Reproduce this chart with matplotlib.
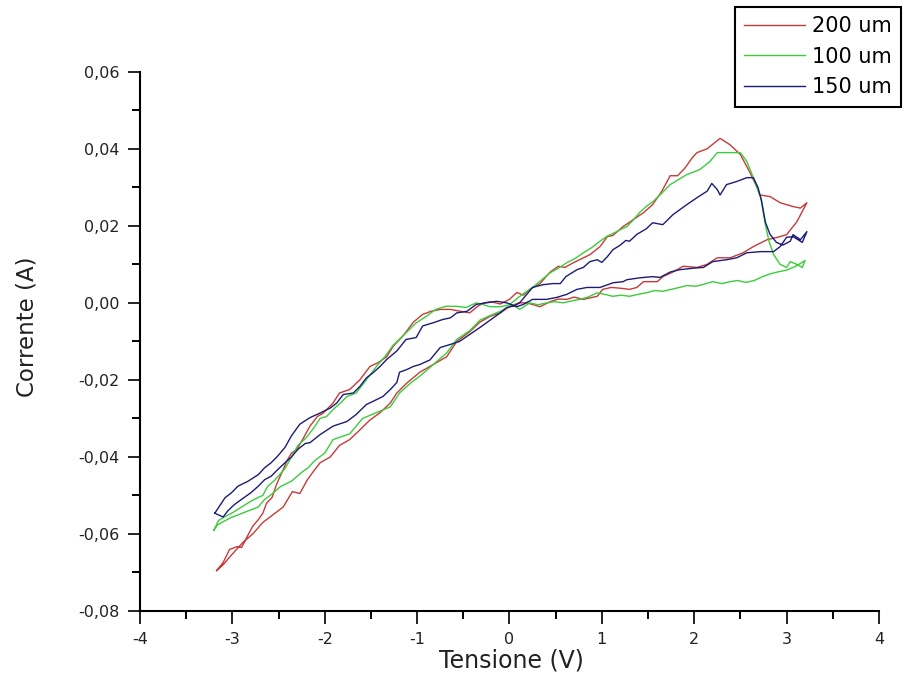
import numpy as np
import matplotlib
matplotlib.use("Agg")
import matplotlib.pyplot as plt
from matplotlib.ticker import MultipleLocator, FuncFormatter

# I-V loops: (tensione V, corrente A)
# forward = from the lowest left point to the right end, reverse = back again
red_fwd = [(-3.17, -0.0695), (-3.10, -0.0674), (-3.03, -0.0640), (-2.95, -0.0633), (-2.90, -0.0635),
           (-2.84, -0.0607), (-2.78, -0.0580), (-2.72, -0.0563), (-2.67, -0.0546), (-2.63, -0.0520),
           (-2.57, -0.0505), (-2.52, -0.0470), (-2.45, -0.0433), (-2.41, -0.0410), (-2.36, -0.0390),
           (-2.30, -0.0380), (-2.24, -0.0355), (-2.16, -0.0320), (-2.08, -0.0295), (-2.02, -0.0287),
           (-1.91, -0.0260), (-1.84, -0.0234), (-1.73, -0.0225), (-1.62, -0.0200), (-1.51, -0.0165),
           (-1.42, -0.0155), (-1.33, -0.0140), (-1.26, -0.0113), (-1.15, -0.0085), (-1.04, -0.0050),
           (-0.94, -0.0030), (-0.85, -0.0022), (-0.75, -0.0017), (-0.64, -0.0017), (-0.53, -0.0022),
           (-0.43, -0.0026), (-0.35, -0.0010), (-0.28, 0.0000), (-0.20, 0.0003), (-0.10, -0.0003),
           (0.00, 0.0009), (0.08, 0.0027), (0.15, 0.0020), (0.22, 0.0035), (0.33, 0.0050),
           (0.44, 0.0080), (0.53, 0.0095), (0.60, 0.0092), (0.69, 0.0104), (0.80, 0.0117),
           (0.87, 0.0125), (0.98, 0.0146), (1.06, 0.0172), (1.12, 0.0175), (1.23, 0.0198),
           (1.34, 0.0216), (1.45, 0.0234), (1.55, 0.0255), (1.65, 0.0290), (1.74, 0.0330),
           (1.82, 0.0330), (1.90, 0.0350), (1.98, 0.0377), (2.03, 0.0390), (2.14, 0.0400),
           (2.28, 0.0427), (2.39, 0.0410), (2.50, 0.0385), (2.60, 0.0340), (2.68, 0.0300),
           (2.71, 0.0280), (2.82, 0.0276), (2.93, 0.0260), (3.00, 0.0255), (3.07, 0.0250),
           (3.15, 0.0246), (3.22, 0.0260)]
red_rev = [(3.22, 0.0260), (3.11, 0.0210), (3.00, 0.0177), (2.90, 0.0170), (2.79, 0.0164),
           (2.64, 0.0146), (2.53, 0.0130), (2.39, 0.0117), (2.25, 0.0117), (2.14, 0.0100),
           (2.03, 0.0092), (1.88, 0.0095), (1.77, 0.0080), (1.66, 0.0068), (1.60, 0.0055),
           (1.45, 0.0055), (1.38, 0.0040), (1.30, 0.0035), (1.20, 0.0038), (1.10, 0.0040),
           (1.01, 0.0035), (0.95, 0.0017), (0.80, 0.0009), (0.70, 0.0015), (0.62, 0.0009),
           (0.53, 0.0010), (0.44, 0.0003), (0.33, -0.0010), (0.19, 0.0000), (0.10, 0.0000),
           (0.00, -0.0010), (-0.10, -0.0026), (-0.21, -0.0035), (-0.32, -0.0050), (-0.43, -0.0075),
           (-0.57, -0.0100), (-0.68, -0.0140), (-0.86, -0.0165), (-0.97, -0.0180), (-1.11, -0.0208),
           (-1.22, -0.0234), (-1.29, -0.0260), (-1.40, -0.0285), (-1.51, -0.0304), (-1.62, -0.0330),
           (-1.73, -0.0355), (-1.84, -0.0370), (-1.94, -0.0400), (-2.05, -0.0415), (-2.13, -0.0440),
           (-2.19, -0.0460), (-2.27, -0.0495), (-2.35, -0.0490), (-2.45, -0.0530), (-2.56, -0.0550),
           (-2.67, -0.0570), (-2.78, -0.0600), (-2.89, -0.0623), (-3.03, -0.0660), (-3.10, -0.0680),
           (-3.17, -0.0695)]

green_fwd = [(-3.20, -0.0590), (-3.15, -0.0565), (-3.08, -0.0555), (-3.00, -0.0545), (-2.90, -0.0530),
             (-2.80, -0.0515), (-2.72, -0.0505), (-2.67, -0.0500), (-2.62, -0.0477), (-2.54, -0.0460),
             (-2.43, -0.0430), (-2.36, -0.0400), (-2.29, -0.0370), (-2.20, -0.0350), (-2.12, -0.0325),
             (-2.05, -0.0300), (-1.98, -0.0295), (-1.91, -0.0277), (-1.83, -0.0260), (-1.76, -0.0243),
             (-1.66, -0.0234), (-1.55, -0.0200), (-1.44, -0.0165), (-1.35, -0.0140), (-1.26, -0.0110),
             (-1.12, -0.0078), (-1.01, -0.0052), (-0.90, -0.0035), (-0.80, -0.0017), (-0.69, -0.0009),
             (-0.57, -0.0009), (-0.47, -0.0012), (-0.36, 0.0000), (-0.28, -0.0005), (-0.21, -0.0010),
             (-0.10, -0.0010), (0.00, -0.0005), (0.10, 0.0015), (0.25, 0.0040), (0.35, 0.0060),
             (0.44, 0.0078), (0.53, 0.0090), (0.62, 0.0104), (0.71, 0.0115), (0.80, 0.0130),
             (0.90, 0.0145), (0.98, 0.0160), (1.05, 0.0172), (1.12, 0.0180), (1.20, 0.0190),
             (1.27, 0.0198), (1.34, 0.0215), (1.41, 0.0235), (1.48, 0.0250), (1.55, 0.0262),
             (1.65, 0.0285), (1.74, 0.0307), (1.83, 0.0320), (1.92, 0.0333), (2.06, 0.0346),
             (2.17, 0.0367), (2.25, 0.0390), (2.39, 0.0390), (2.50, 0.0390), (2.57, 0.0367),
             (2.64, 0.0325), (2.72, 0.0273), (2.77, 0.0203), (2.81, 0.0160), (2.86, 0.0125),
             (2.93, 0.0100), (3.00, 0.0092), (3.04, 0.0107), (3.11, 0.0100), (3.17, 0.0092),
             (3.20, 0.0110)]
green_rev = [(3.20, 0.0110), (3.10, 0.0095), (3.00, 0.0085), (2.90, 0.0080), (2.82, 0.0075),
             (2.74, 0.0068), (2.65, 0.0058), (2.56, 0.0053), (2.47, 0.0058), (2.39, 0.0055),
             (2.30, 0.0050), (2.20, 0.0055), (2.10, 0.0048), (2.02, 0.0043), (1.92, 0.0045),
             (1.84, 0.0040), (1.75, 0.0035), (1.66, 0.0030), (1.57, 0.0032), (1.48, 0.0026),
             (1.39, 0.0022), (1.30, 0.0017), (1.21, 0.0020), (1.12, 0.0017), (1.03, 0.0022),
             (0.95, 0.0026), (0.85, 0.0015), (0.76, 0.0009), (0.67, 0.0005), (0.58, 0.0000),
             (0.49, 0.0003), (0.40, 0.0000), (0.31, -0.0005), (0.22, 0.0000), (0.11, -0.0017),
             (0.04, -0.0005), (-0.10, -0.0022), (-0.21, -0.0033), (-0.32, -0.0045), (-0.43, -0.0072),
             (-0.57, -0.0095), (-0.68, -0.0130), (-0.80, -0.0155), (-0.97, -0.0190), (-1.08, -0.0210),
             (-1.19, -0.0234), (-1.29, -0.0270), (-1.45, -0.0286), (-1.59, -0.0300), (-1.73, -0.0340),
             (-1.91, -0.0355), (-2.00, -0.0390), (-2.11, -0.0410), (-2.18, -0.0428), (-2.25, -0.0440),
             (-2.36, -0.0463), (-2.48, -0.0477), (-2.58, -0.0498), (-2.65, -0.0510), (-2.72, -0.0530),
             (-2.88, -0.0545), (-3.02, -0.0558), (-3.16, -0.0576), (-3.20, -0.0590)]

blue_fwd = [(-3.19, -0.0546), (-3.10, -0.0556), (-3.05, -0.0540), (-2.98, -0.0524), (-2.90, -0.0510),
            (-2.80, -0.0493), (-2.72, -0.0476), (-2.65, -0.0459), (-2.58, -0.0450), (-2.51, -0.0433),
            (-2.43, -0.0415), (-2.36, -0.0400), (-2.29, -0.0380), (-2.21, -0.0365), (-2.16, -0.0363),
            (-2.05, -0.0342), (-1.91, -0.0320), (-1.76, -0.0308), (-1.66, -0.0290), (-1.55, -0.0264),
            (-1.48, -0.0256), (-1.37, -0.0243), (-1.29, -0.0225), (-1.22, -0.0207), (-1.19, -0.0180),
            (-1.11, -0.0173), (-1.04, -0.0165), (-0.97, -0.0160), (-0.86, -0.0148), (-0.75, -0.0116),
            (-0.64, -0.0108), (-0.54, -0.0100), (-0.43, -0.0082), (-0.32, -0.0064), (-0.25, -0.0052),
            (-0.18, -0.0040), (-0.10, -0.0026), (-0.03, -0.0012), (0.05, -0.0008), (0.11, 0.0000),
            (0.18, 0.0020), (0.25, 0.0040), (0.36, 0.0047), (0.47, 0.0050), (0.55, 0.0050),
            (0.61, 0.0068), (0.73, 0.0086), (0.80, 0.0092), (0.87, 0.0107), (0.95, 0.0112),
            (1.00, 0.0105), (1.06, 0.0120), (1.12, 0.0138), (1.20, 0.0150), (1.26, 0.0162),
            (1.30, 0.0160), (1.38, 0.0178), (1.48, 0.0192), (1.55, 0.0208), (1.66, 0.0203),
            (1.77, 0.0229), (1.92, 0.0255), (2.03, 0.0273), (2.14, 0.0290), (2.19, 0.0310),
            (2.25, 0.0294), (2.28, 0.0280), (2.35, 0.0307), (2.46, 0.0315), (2.57, 0.0325),
            (2.64, 0.0325), (2.69, 0.0300), (2.73, 0.0264), (2.77, 0.0210), (2.82, 0.0178),
            (2.89, 0.0157), (2.96, 0.0150), (3.04, 0.0160), (3.07, 0.0177), (3.15, 0.0164),
            (3.22, 0.0185)]
blue_rev = [(3.22, 0.0185), (3.17, 0.0157), (3.07, 0.0172), (3.00, 0.0170), (2.93, 0.0146),
            (2.86, 0.0133), (2.72, 0.0133), (2.57, 0.0130), (2.46, 0.0117), (2.35, 0.0112),
            (2.20, 0.0107), (2.10, 0.0092), (1.99, 0.0090), (1.84, 0.0086), (1.74, 0.0080),
            (1.63, 0.0066), (1.55, 0.0068), (1.41, 0.0065), (1.27, 0.0060), (1.23, 0.0055),
            (1.12, 0.0052), (0.98, 0.0040), (0.84, 0.0040), (0.73, 0.0035), (0.62, 0.0022),
            (0.51, 0.0014), (0.40, 0.0009), (0.25, 0.0009), (0.15, -0.0004), (0.08, -0.0010),
            (-0.03, 0.0000), (-0.14, 0.0004), (-0.25, 0.0000), (-0.36, -0.0004), (-0.46, -0.0022),
            (-0.57, -0.0026), (-0.64, -0.0039), (-0.72, -0.0043), (-0.83, -0.0052), (-0.94, -0.0060),
            (-1.01, -0.0090), (-1.12, -0.0095), (-1.22, -0.0125), (-1.33, -0.0147), (-1.40, -0.0165),
            (-1.48, -0.0182), (-1.55, -0.0195), (-1.62, -0.0217), (-1.69, -0.0234), (-1.80, -0.0238),
            (-1.87, -0.0260), (-1.94, -0.0273), (-2.05, -0.0286), (-2.16, -0.0298), (-2.27, -0.0315),
            (-2.36, -0.0345), (-2.43, -0.0375), (-2.51, -0.0398), (-2.58, -0.0415), (-2.65, -0.0428),
            (-2.72, -0.0446), (-2.83, -0.0463), (-2.94, -0.0476), (-3.01, -0.0493), (-3.08, -0.0506),
            (-3.14, -0.0528), (-3.19, -0.0546)]

labels = ["200 um", "100 um", "150 um"]
colors = ["#c83a3a", "#3ccc3c", "#1c1c78"]

plt.rcParams['font.family'] = ['DejaVu Sans']

fig = plt.figure(figsize=(9.08, 6.93), dpi=100)
ax = fig.add_axes([0.1542, 0.1183, 0.8138, 0.7782])

loops = [(red_fwd, red_rev), (green_fwd, green_rev), (blue_fwd, blue_rev)]
for (fwd, rev), lab, col in zip(loops, labels, colors):
    pts = np.array(fwd + rev[1:])
    ax.plot(pts[:, 0], pts[:, 1], color=col, lw=1.0, label=lab)

ax.set_xlim(-4, 4)
ax.set_ylim(-0.08, 0.06)
ax.xaxis.set_major_locator(MultipleLocator(1))
ax.xaxis.set_minor_locator(MultipleLocator(0.5))
ax.yaxis.set_major_locator(MultipleLocator(0.02))
ax.yaxis.set_minor_locator(MultipleLocator(0.01))
ax.yaxis.set_major_formatter(FuncFormatter(lambda v, p: ("%.2f" % v).replace(".", ",").replace("-0,00", "0,00")))
ax.xaxis.set_major_formatter(FuncFormatter(lambda v, p: "%d" % round(v)))

for s in ["top", "right"]:
    ax.spines[s].set_visible(False)
for s in ["left", "bottom"]:
    ax.spines[s].set_linewidth(1.5)
ax.tick_params(which="major", direction="out", length=9, width=1.4, labelsize=11.5, pad=6, colors="#222222")
ax.tick_params(which="minor", direction="out", length=6, width=1.4)

ax.set_xlabel("Tensione (V)", fontsize=17, color="#222222")
ax.set_ylabel("Corrente (A)", fontsize=16.5, color="#222222")
ax.xaxis.set_label_coords(0.502, -0.069)
ax.yaxis.set_label_coords(-0.138, 0.528)

leg = fig.legend(loc="upper left", bbox_to_anchor=(735 / 908, 1 - 7 / 693), borderaxespad=0,
                 fontsize=15, handlelength=2.9, handletextpad=0.35, labelspacing=0.5,
                 borderpad=0.45, fancybox=False, framealpha=1)
leg.get_frame().set_edgecolor("black")
leg.get_frame().set_linewidth(1.5)

fig.savefig("out.png", dpi=100)
